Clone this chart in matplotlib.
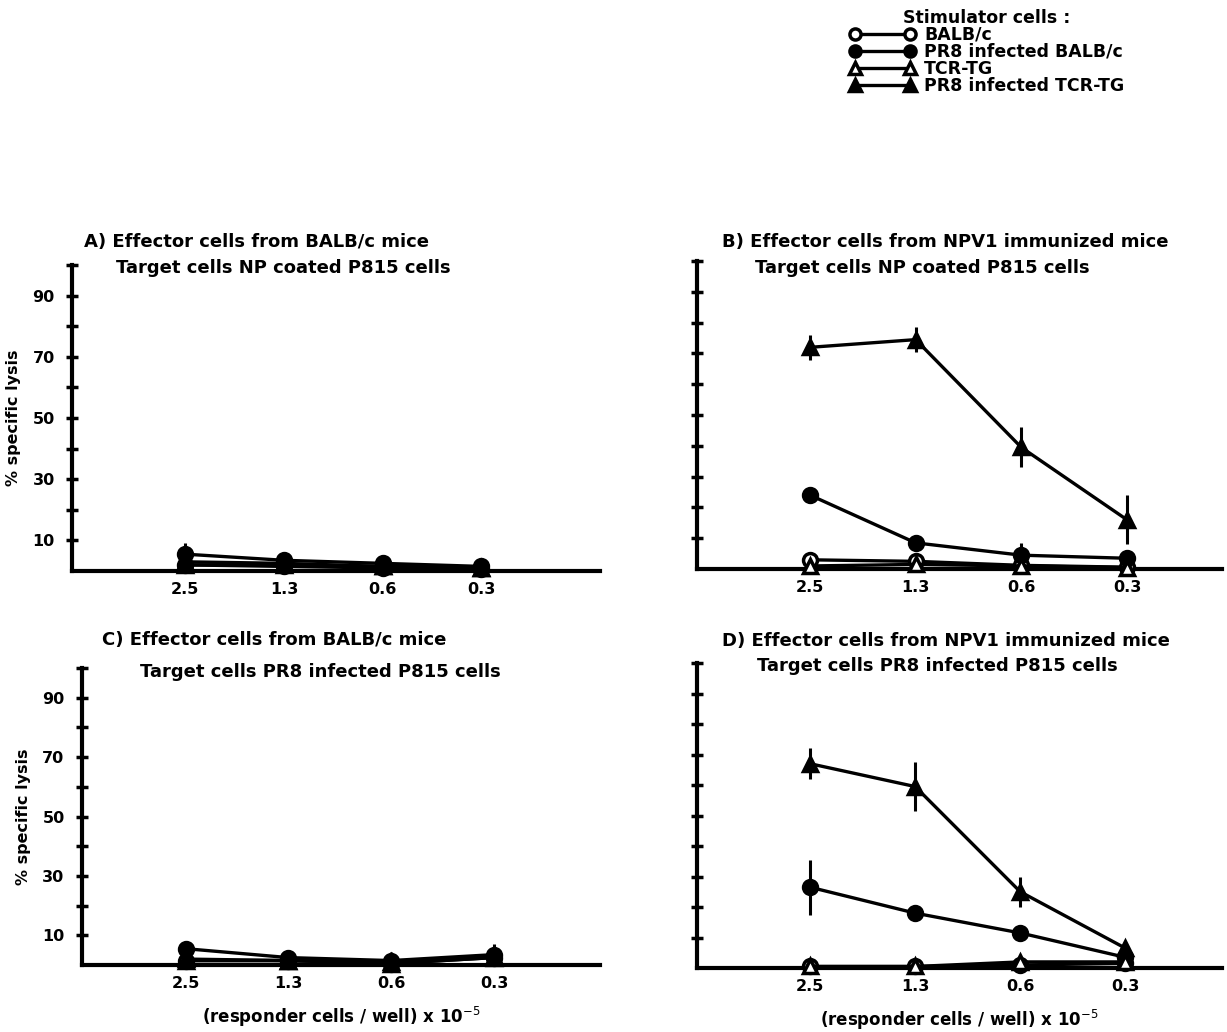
import matplotlib
matplotlib.use('Agg')
import matplotlib.pyplot as plt
import numpy as np

# data
doses = ['2.5', '1.3', '0.6', '0.3']
stim_names = ['BALB/c', 'PR8 infected BALB/c', 'TCR-TG', 'PR8 infected TCR-TG']

# panel A: effectors BALB/c, targets NP coated
a_balb = [2, 1.5, 1, 0.8]
a_pr8_balb = [5.5, 3.5, 2.5, 1.5]
a_tcr = [3, 2.5, 1.5, 1]
a_pr8_tcr = [2, 2, 1.5, 1]
a_err_pr8_balb = [3.5, 0, 0, 0]

# panel B: effectors NPV1 immunized, targets NP coated
b_balb = [3, 2.5, 1.2, 0.6]
b_pr8_balb = [24, 8.5, 4.5, 3.5]
b_tcr = [1, 1.5, 1, 0.5]
b_pr8_tcr = [72, 74.5, 39.5, 16]
b_err_pr8_balb = [0, 0, 4, 0]
b_err_pr8_tcr = [4, 4, 6.5, 8]

# panel C: effectors BALB/c, targets PR8 infected
c_balb = [1.5, 1.5, 0.5, 2.5]
c_pr8_balb = [5.5, 2.5, 1.5, 3.5]
c_tcr = [2, 1.5, 1, 3]
c_pr8_tcr = [1.5, 1.5, 0.5, 2.5]
c_err_pr8_balb = [0, 0, 3, 3.5]

# panel D: effectors NPV1 immunized, targets PR8 infected
d_balb = [0.5, 0.5, 1, 1.5]
d_pr8_balb = [26.5, 18, 11.5, 3.5]
d_tcr = [0.5, 0.5, 2, 2]
d_pr8_tcr = [67, 59.5, 25, 6.5]
d_err_pr8_balb = [9, 0, 0, 0]
d_err_pr8_tcr = [5, 8, 5, 2]

zero = [0, 0, 0, 0]

panels = [
    dict(title1='A) Effector cells from BALB/c mice',
         title2='Target cells NP coated P815 cells',
         series=[a_balb, a_pr8_balb, a_tcr, a_pr8_tcr],
         errs=[zero, a_err_pr8_balb, zero, zero],
         rect=[0.0587, 0.4467, 0.430, 0.2965], xlim=(-0.15, 5.2),
         t1=(84, 242), t2=(116, 268), ylab=True, xlab=False),
    dict(title1='B) Effector cells from NPV1 immunized mice',
         title2='Target cells NP coated P815 cells',
         series=[b_balb, b_pr8_balb, b_tcr, b_pr8_tcr],
         errs=[zero, b_err_pr8_balb, zero, b_err_pr8_tcr],
         rect=[0.568, 0.4486, 0.428, 0.2984], xlim=(-0.07, 4.9),
         t1=(722, 242), t2=(755, 268), ylab=False, xlab=False),
    dict(title1='C) Effector cells from BALB/c mice',
         title2='Target cells PR8 infected P815 cells',
         series=[c_balb, c_pr8_balb, c_tcr, c_pr8_tcr],
         errs=[zero, c_err_pr8_balb, zero, zero],
         rect=[0.0668, 0.0649, 0.422, 0.2878], xlim=(-0.01, 5.03),
         t1=(102, 640), t2=(140, 672), ylab=True, xlab=True),
    dict(title1='D) Effector cells from NPV1 immunized mice',
         title2='Target cells PR8 infected P815 cells',
         series=[d_balb, d_pr8_balb, d_tcr, d_pr8_tcr],
         errs=[zero, d_err_pr8_balb, zero, d_err_pr8_tcr],
         rect=[0.568, 0.062, 0.428, 0.2955], xlim=(-0.076, 4.92),
         t1=(722, 641), t2=(757, 666), ylab=False, xlab=True),
]

styles = [
    dict(marker='o', mfc='white'),
    dict(marker='o', mfc='black'),
    dict(marker='^', mfc='white'),
    dict(marker='^', mfc='black'),
]

W, H = 1227, 1032
fig = plt.figure(figsize=(W / 100, H / 100), dpi=100)
font = dict(family='DejaVu Sans', weight='bold')

x = np.arange(1, len(doses) + 1)
for p in panels:
    ax = fig.add_axes(p['rect'])
    for vals, err, st, name in zip(p['series'], p['errs'], styles, stim_names):
        err = np.array(err, dtype=float)
        m = err > 0
        if m.any():
            ax.errorbar(x[m], np.array(vals)[m], yerr=err[m], fmt='none',
                        ecolor='black', elinewidth=2.2, capsize=0, zorder=2)
        ax.plot(x, vals, color='black', lw=2.4, marker=st['marker'],
                mfc=st['mfc'], mec='black', mew=2.5, ms=10, label=name,
                zorder=3, clip_on=False)
    ax.set_xlim(*p['xlim'])
    ax.set_ylim(0, 100)
    ax.spines['top'].set_visible(False)
    ax.spines['right'].set_visible(False)
    for s in ('left', 'bottom'):
        ax.spines[s].set_linewidth(3)
    ax.set_xticks(x)
    ax.set_xticklabels(doses, fontsize=11.5, **font)
    ax.tick_params(axis='x', length=0, pad=8)
    ax.set_yticks(range(10, 101, 10))
    if p['ylab']:
        ax.set_yticklabels(['10', '', '30', '', '50', '', '70', '', '90', ''],
                           fontsize=11.5, **font)
        ax.set_ylabel('% specific lysis', fontsize=11.5, labelpad=8, **font)
    else:
        ax.set_yticklabels([])
    ax.tick_params(axis='y', direction='inout', length=9, width=2.5, pad=8)
    if p['xlab']:
        ax.set_xlabel('(responder cells / well) x 10$^{-5}$', fontsize=12,
                      labelpad=10, **font)
    fig.text(p['t1'][0] / W, 1 - p['t1'][1] / H, p['title1'], fontsize=13,
             va='center', ha='left', **font)
    fig.text(p['t2'][0] / W, 1 - p['t2'][1] / H, p['title2'], fontsize=13,
             va='center', ha='left', **font)

handles, labels = fig.axes[0].get_legend_handles_labels()
leg = fig.legend(handles, labels, loc='upper left',
                 bbox_to_anchor=(834 / W, 1 + 7 / H), frameon=False,
                 numpoints=2, handlelength=3.8, handletextpad=0.5,
                 labelspacing=-0.05, markerscale=0.8,
                 title='Stimulator cells :',
                 prop=dict(size=12.5, **font),
                 title_fontproperties=dict(size=12.5, **font))

fig.savefig('out.png', dpi=100)
